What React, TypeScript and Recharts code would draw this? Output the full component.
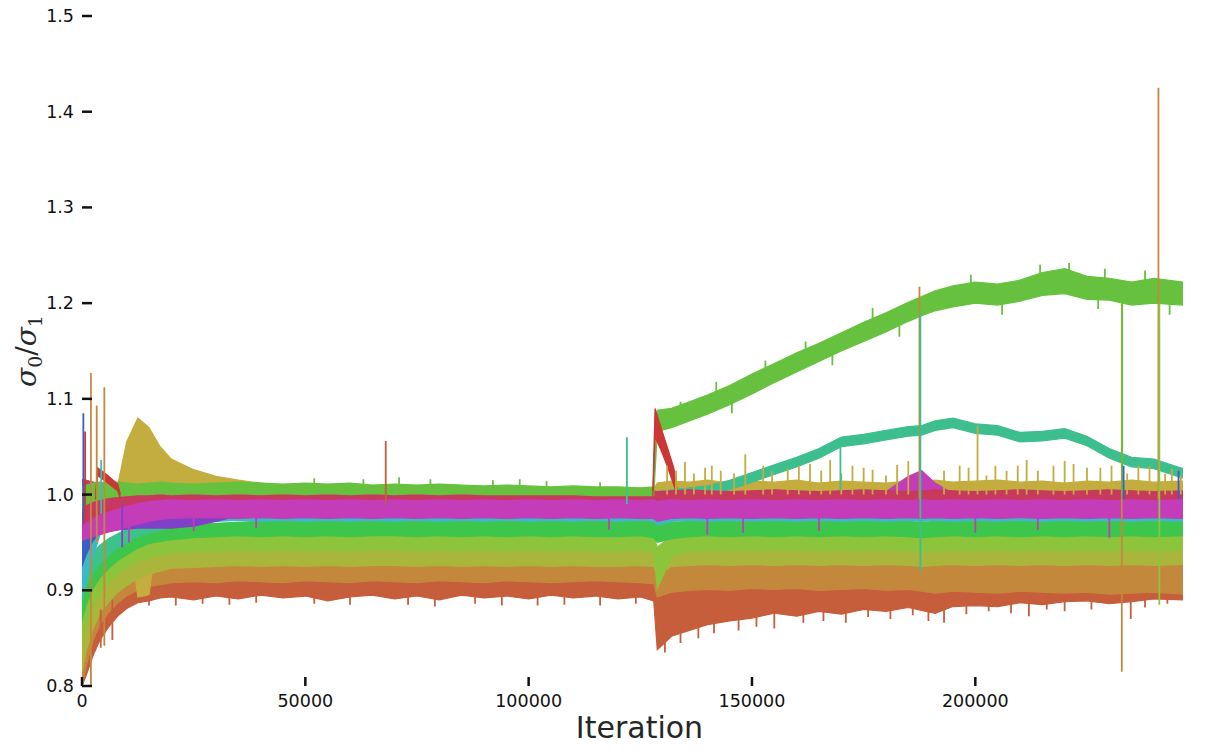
import React from 'react';
import { ComposedChart, Area, Line, XAxis, YAxis, Label } from 'recharts';

// sample iterations shared by every band
const ITER = [
  0, 1000, 2500, 4000, 6000, 8000, 10000, 12500, 15000, 17500,
  20000, 25000, 30000, 35000, 40000, 45000, 50000, 55000, 60000, 65000,
  70000, 75000, 80000, 85000, 90000, 95000, 100000, 105000, 110000, 115000,
  120000, 125000, 128000, 128800, 132000, 136000, 140000, 145000, 150000, 155000,
  160000, 165000, 170000, 175000, 180000, 185000, 188000, 191000, 195000, 200000,
  205000, 210000, 215000, 220000, 225000, 230000, 235000, 240000, 246500,
];

const X_TICKS = [0, 50000, 100000, 150000, 200000];
const Y_TICKS = [0.8, 0.9, 1.0, 1.1, 1.2, 1.3, 1.4, 1.5];

// envelope (low / high) of each run
const BROWN_LO = [
  0.800, 0.812, 0.832, 0.848, 0.862, 0.873, 0.881, 0.887, 0.889, 0.892,
  0.893, 0.890, 0.894, 0.891, 0.895, 0.892, 0.894, 0.889, 0.893, 0.895,
  0.891, 0.894, 0.890, 0.895, 0.892, 0.894, 0.891, 0.895, 0.892, 0.894,
  0.891, 0.893, 0.889, 0.838, 0.852, 0.858, 0.864, 0.868, 0.871, 0.876,
  0.873, 0.878, 0.875, 0.880, 0.878, 0.882, 0.879, 0.876, 0.883, 0.884,
  0.883, 0.887, 0.885, 0.888, 0.889, 0.886, 0.888, 0.891, 0.890,
];
const BROWN_HI = [
  0.830, 0.850, 0.870, 0.882, 0.892, 0.900, 0.905, 0.910, 0.914, 0.916,
  0.918, 0.917, 0.919, 0.918, 0.917, 0.919, 0.918, 0.917, 0.918, 0.919,
  0.918, 0.917, 0.919, 0.918, 0.917, 0.918, 0.919, 0.917, 0.918, 0.917,
  0.918, 0.917, 0.916, 0.912, 0.913, 0.915, 0.916, 0.917, 0.917, 0.918,
  0.918, 0.918, 0.919, 0.918, 0.919, 0.918, 0.917, 0.918, 0.919, 0.918,
  0.918, 0.919, 0.918, 0.919, 0.918, 0.919, 0.918, 0.919, 0.918,
];
const ORANGE_LO = [
  0.800, 0.822, 0.848, 0.864, 0.877, 0.887, 0.894, 0.900, 0.904, 0.906,
  0.908, 0.909, 0.908, 0.910, 0.909, 0.908, 0.910, 0.909, 0.908, 0.910,
  0.909, 0.908, 0.910, 0.909, 0.908, 0.910, 0.909, 0.908, 0.909, 0.910,
  0.909, 0.908, 0.907, 0.893, 0.898, 0.900, 0.901, 0.900, 0.902, 0.901,
  0.902, 0.900, 0.901, 0.902, 0.900, 0.901, 0.899, 0.897, 0.899, 0.898,
  0.897, 0.899, 0.898, 0.897, 0.898, 0.896, 0.897, 0.898, 0.896,
];
const ORANGE_HI = [
  0.835, 0.855, 0.877, 0.890, 0.900, 0.909, 0.915, 0.920, 0.922, 0.924,
  0.926, 0.927, 0.926, 0.928, 0.927, 0.926, 0.928, 0.927, 0.926, 0.927,
  0.928, 0.926, 0.927, 0.928, 0.926, 0.927, 0.928, 0.926, 0.927, 0.928,
  0.927, 0.926, 0.926, 0.922, 0.928, 0.930, 0.931, 0.930, 0.932, 0.931,
  0.932, 0.931, 0.932, 0.931, 0.932, 0.933, 0.931, 0.932, 0.931, 0.932,
  0.933, 0.932, 0.931, 0.932, 0.933, 0.932, 0.931, 0.932, 0.933,
];
const GOLD_LO = [
  0.985, 0.988, 0.990, 0.992, 0.993, 0.994, 0.985, 0.893, 0.895, 0.985,
  0.992, 0.994, 0.996, 0.996, 0.997, 0.996, 0.997, 0.996, 0.997, 0.996,
  0.997, 0.996, 0.997, 0.996, 0.997, 0.996, 0.997, 0.996, 0.997, 0.996,
  0.997, 0.996, 0.997, 0.996, 0.997, 0.996, 0.997, 0.996, 0.997, 0.996,
  0.997, 0.996, 0.997, 0.996, 0.997, 0.996, 0.997, 0.996, 0.997, 0.996,
  0.997, 0.996, 0.997, 0.996, 0.997, 0.996, 0.997, 0.996, 0.997,
];
const GOLD_HI = [
  1.000, 1.001, 1.003, 1.004, 1.006, 1.010, 1.055, 1.080, 1.070, 1.050,
  1.037, 1.026, 1.019, 1.015, 1.012, 1.010, 1.008, 1.007, 1.008, 1.007,
  1.007, 1.008, 1.007, 1.007, 1.006, 1.007, 1.006, 1.006, 1.006, 1.006,
  1.006, 1.006, 1.006, 1.012, 1.014, 1.013, 1.015, 1.012, 1.014, 1.013,
  1.015, 1.012, 1.014, 1.013, 1.012, 1.014, 1.013, 1.015, 1.013, 1.014,
  1.015, 1.013, 1.014, 1.012, 1.014, 1.013, 1.015, 1.013, 1.014,
];
const OLIVE_LO = [
  0.815, 0.838, 0.860, 0.876, 0.888, 0.898, 0.905, 0.912, 0.917, 0.920,
  0.923, 0.924, 0.925, 0.926, 0.925, 0.926, 0.925, 0.926, 0.925, 0.926,
  0.926, 0.925, 0.926, 0.925, 0.926, 0.925, 0.926, 0.925, 0.926, 0.925,
  0.925, 0.926, 0.925, 0.915, 0.925, 0.926, 0.927, 0.926, 0.927, 0.926,
  0.927, 0.926, 0.927, 0.926, 0.927, 0.926, 0.925, 0.926, 0.927, 0.926,
  0.927, 0.926, 0.927, 0.926, 0.927, 0.926, 0.927, 0.926, 0.927,
];
const OLIVE_HI = [
  0.850, 0.870, 0.888, 0.900, 0.910, 0.918, 0.924, 0.930, 0.934, 0.937,
  0.939, 0.941, 0.942, 0.943, 0.944, 0.943, 0.944, 0.943, 0.944, 0.943,
  0.944, 0.943, 0.944, 0.943, 0.944, 0.943, 0.944, 0.943, 0.944, 0.943,
  0.944, 0.943, 0.943, 0.935, 0.943, 0.944, 0.945, 0.944, 0.945, 0.944,
  0.945, 0.944, 0.945, 0.944, 0.945, 0.944, 0.944, 0.945, 0.944, 0.945,
  0.944, 0.945, 0.944, 0.945, 0.944, 0.945, 0.944, 0.945, 0.944,
];
const YGREEN_LO = [
  0.845, 0.865, 0.883, 0.897, 0.908, 0.917, 0.924, 0.930, 0.934, 0.937,
  0.939, 0.940, 0.941, 0.942, 0.941, 0.942, 0.941, 0.942, 0.941, 0.942,
  0.942, 0.941, 0.942, 0.941, 0.942, 0.941, 0.942, 0.941, 0.942, 0.941,
  0.941, 0.942, 0.940, 0.902, 0.935, 0.940, 0.941, 0.942, 0.941, 0.942,
  0.942, 0.941, 0.942, 0.941, 0.942, 0.941, 0.940, 0.941, 0.942, 0.941,
  0.942, 0.941, 0.942, 0.941, 0.942, 0.941, 0.942, 0.941, 0.942,
];
const YGREEN_HI = [
  0.870, 0.888, 0.903, 0.914, 0.924, 0.931, 0.937, 0.944, 0.949, 0.952,
  0.954, 0.956, 0.957, 0.958, 0.958, 0.959, 0.958, 0.959, 0.958, 0.959,
  0.959, 0.958, 0.959, 0.958, 0.959, 0.958, 0.959, 0.958, 0.959, 0.958,
  0.958, 0.959, 0.957, 0.945, 0.957, 0.958, 0.959, 0.960, 0.959, 0.960,
  0.960, 0.959, 0.960, 0.959, 0.960, 0.959, 0.958, 0.959, 0.960, 0.959,
  0.960, 0.959, 0.960, 0.959, 0.960, 0.959, 0.960, 0.959, 0.960,
];
const GREEN_LO = [
  0.868, 0.886, 0.902, 0.913, 0.923, 0.931, 0.937, 0.944, 0.949, 0.951,
  0.953, 0.955, 0.956, 0.957, 0.956, 0.957, 0.956, 0.957, 0.956, 0.957,
  0.957, 0.956, 0.957, 0.956, 0.957, 0.956, 0.957, 0.956, 0.957, 0.956,
  0.956, 0.957, 0.955, 0.950, 0.954, 0.956, 0.957, 0.956, 0.957, 0.956,
  0.957, 0.956, 0.957, 0.956, 0.957, 0.956, 0.955, 0.956, 0.957, 0.956,
  0.957, 0.956, 0.957, 0.956, 0.957, 0.956, 0.957, 0.956, 0.957,
];
const GREEN_HI = [
  0.900, 0.914, 0.926, 0.934, 0.941, 0.947, 0.954, 0.959, 0.962, 0.964,
  0.966, 0.968, 0.970, 0.971, 0.972, 0.973, 0.972, 0.973, 0.972, 0.973,
  0.973, 0.972, 0.973, 0.972, 0.973, 0.972, 0.973, 0.972, 0.973, 0.972,
  0.972, 0.973, 0.972, 0.968, 0.971, 0.972, 0.973, 0.972, 0.973, 0.972,
  0.973, 0.972, 0.973, 0.972, 0.973, 0.972, 0.971, 0.972, 0.973, 0.972,
  0.973, 0.972, 0.973, 0.972, 0.973, 0.972, 0.973, 0.972, 0.973,
];
const TEAL_LO = [
  0.890, 0.905, 0.918, 0.928, 0.937, 0.944, 0.950, 0.956, 0.960, 0.962,
  0.966, 0.972, 0.978, 0.978, 0.979, 0.978, 0.979, 0.978, 0.979, 0.978,
  0.979, 0.978, 0.979, 0.978, 0.979, 0.978, 0.979, 0.978, 0.979, 0.978,
  0.979, 0.978, 0.979, 0.978, 0.979, 0.978, 0.979, 0.978, 0.979, 0.978,
  0.979, 0.978, 0.979, 0.978, 0.979, 0.978, 0.979, 0.978, 0.979, 0.978,
  0.979, 0.978, 0.979, 0.978, 0.979, 0.978, 0.979, 0.978, 0.979,
];
const TEAL_HI = [
  0.918, 0.930, 0.940, 0.947, 0.954, 0.959, 0.964, 0.968, 0.971, 0.973,
  0.978, 0.984, 0.988, 0.988, 0.989, 0.988, 0.989, 0.988, 0.989, 0.988,
  0.989, 0.988, 0.989, 0.988, 0.989, 0.988, 0.989, 0.988, 0.989, 0.988,
  0.989, 0.988, 0.989, 0.988, 0.989, 0.988, 0.989, 0.988, 0.989, 0.988,
  0.989, 0.988, 0.989, 0.988, 0.989, 0.988, 0.989, 0.988, 0.989, 0.988,
  0.989, 0.988, 0.989, 0.988, 0.989, 0.988, 0.989, 0.988, 0.989,
];
const CYAN_LO = [
  0.897, 0.912, 0.935, 0.958, 0.962, 0.964, 0.966, 0.969, 0.970, 0.971,
  0.971, 0.972, 0.972, 0.973, 0.972, 0.973, 0.972, 0.973, 0.972, 0.973,
  0.972, 0.973, 0.972, 0.973, 0.972, 0.973, 0.972, 0.973, 0.972, 0.973,
  0.972, 0.973, 0.972, 0.968, 0.972, 0.973, 0.972, 0.973, 0.972, 0.973,
  0.972, 0.973, 0.972, 0.973, 0.972, 0.973, 0.972, 0.973, 0.972, 0.973,
  0.972, 0.973, 0.972, 0.973, 0.972, 0.973, 0.972, 0.973, 0.972,
];
const CYAN_HI = [
  0.925, 0.938, 0.955, 0.968, 0.972, 0.975, 0.977, 0.979, 0.980, 0.981,
  0.981, 0.983, 0.985, 0.985, 0.986, 0.985, 0.986, 0.985, 0.986, 0.985,
  0.986, 0.985, 0.986, 0.985, 0.986, 0.985, 0.986, 0.985, 0.986, 0.985,
  0.986, 0.985, 0.986, 0.985, 0.986, 0.985, 0.986, 0.985, 0.986, 0.985,
  0.986, 0.985, 0.986, 0.985, 0.986, 0.985, 0.986, 0.985, 0.986, 0.985,
  0.986, 0.985, 0.986, 0.985, 0.986, 0.985, 0.986, 0.985, 0.986,
];
const BLUE_LO = [
  0.925, 0.938, 0.952, 0.960, 0.963, 0.965, 0.967, 0.969, 0.970, 0.971,
  0.973, 0.976, 0.978, 0.979, 0.978, 0.979, 0.978, 0.979, 0.978, 0.979,
  0.978, 0.979, 0.978, 0.979, 0.978, 0.979, 0.978, 0.979, 0.978, 0.979,
  0.978, 0.979, 0.978, 0.979, 0.978, 0.979, 0.978, 0.979, 0.978, 0.979,
  0.978, 0.979, 0.978, 0.979, 0.978, 0.979, 0.978, 0.979, 0.978, 0.979,
  0.978, 0.979, 0.978, 0.979, 0.978, 0.979, 0.978, 0.979, 0.978,
];
const BLUE_HI = [
  0.953, 0.959, 0.964, 0.968, 0.972, 0.975, 0.977, 0.979, 0.980, 0.981,
  0.983, 0.986, 0.990, 0.989, 0.990, 0.989, 0.990, 0.989, 0.990, 0.989,
  0.990, 0.989, 0.990, 0.989, 0.990, 0.989, 0.990, 0.989, 0.990, 0.989,
  0.990, 0.989, 0.990, 0.989, 0.990, 0.989, 0.990, 0.989, 0.990, 0.989,
  0.990, 0.989, 0.990, 0.989, 0.990, 0.989, 0.990, 0.989, 0.990, 0.989,
  0.990, 0.989, 0.990, 0.989, 0.990, 0.989, 0.990, 0.989, 0.990,
];
const PURPLE_LO = [
  0.953, 0.956, 0.958, 0.960, 0.962, 0.963, 0.964, 0.965, 0.965, 0.965,
  0.965, 0.967, 0.972, 0.978, 0.979, 0.978, 0.979, 0.978, 0.979, 0.978,
  0.979, 0.978, 0.979, 0.978, 0.979, 0.978, 0.979, 0.978, 0.979, 0.978,
  0.979, 0.978, 0.979, 0.978, 0.979, 0.978, 0.979, 0.978, 0.979, 0.978,
  0.979, 0.978, 0.979, 0.978, 0.979, 0.978, 0.979, 0.978, 0.979, 0.978,
  0.979, 0.978, 0.979, 0.978, 0.979, 0.978, 0.979, 0.978, 0.979,
];
const PURPLE_HI = [
  0.975, 0.978, 0.980, 0.982, 0.984, 0.985, 0.986, 0.987, 0.987, 0.988,
  0.988, 0.989, 0.990, 0.990, 0.991, 0.990, 0.991, 0.990, 0.991, 0.990,
  0.991, 0.990, 0.991, 0.990, 0.991, 0.990, 0.991, 0.990, 0.991, 0.990,
  0.991, 0.990, 0.991, 0.990, 0.991, 0.990, 0.991, 0.990, 0.991, 0.990,
  0.991, 0.990, 0.991, 0.990, 0.991, 0.990, 0.991, 0.990, 0.991, 0.990,
  0.991, 0.990, 0.991, 0.990, 0.991, 0.990, 0.991, 0.990, 0.991,
];
const MAGENTA_LO = [
  0.952, 0.954, 0.956, 0.958, 0.961, 0.963, 0.966, 0.969, 0.972, 0.974,
  0.975, 0.976, 0.976, 0.975, 0.976, 0.975, 0.976, 0.975, 0.976, 0.975,
  0.976, 0.975, 0.976, 0.975, 0.976, 0.975, 0.976, 0.975, 0.976, 0.975,
  0.976, 0.975, 0.975, 0.972, 0.975, 0.976, 0.975, 0.976, 0.975, 0.976,
  0.975, 0.976, 0.975, 0.976, 0.975, 0.976, 0.975, 0.976, 0.975, 0.976,
  0.975, 0.976, 0.975, 0.976, 0.975, 0.976, 0.975, 0.976, 0.975,
];
const MAGENTA_HI = [
  0.975, 0.980, 0.985, 0.990, 0.993, 0.995, 0.997, 0.998, 0.998, 0.998,
  0.998, 0.998, 0.998, 0.998, 0.998, 0.998, 0.998, 0.998, 0.998, 0.998,
  0.998, 0.998, 0.998, 0.998, 0.998, 0.998, 0.998, 0.998, 0.998, 0.998,
  0.998, 0.998, 0.998, 0.998, 0.998, 0.998, 0.998, 0.998, 0.998, 0.998,
  0.998, 0.998, 0.998, 0.999, 1.003, 1.019, 1.025, 1.012, 1.001, 0.998,
  0.998, 0.998, 0.998, 0.998, 0.998, 0.998, 0.998, 0.998, 0.998,
];
const TEAL2_LO = [
  0.997, 0.997, 0.997, 0.997, 0.997, 0.997, 0.997, 0.997, 0.997, 0.997,
  0.997, 0.997, 0.997, 0.997, 0.997, 0.997, 0.997, 0.997, 0.997, 0.997,
  0.997, 0.997, 0.997, 0.997, 0.997, 0.997, 0.997, 0.997, 0.997, 0.997,
  0.997, 0.997, 0.997, 0.997, 0.998, 0.999, 1.000, 1.005, 1.013, 1.021,
  1.029, 1.038, 1.050, 1.053, 1.057, 1.061, 1.062, 1.067, 1.070, 1.064,
  1.062, 1.055, 1.056, 1.059, 1.051, 1.038, 1.029, 1.027, 1.017,
];
const TEAL2_HI = [
  1.003, 1.003, 1.003, 1.003, 1.003, 1.003, 1.003, 1.003, 1.003, 1.003,
  1.003, 1.003, 1.003, 1.003, 1.003, 1.003, 1.003, 1.003, 1.003, 1.003,
  1.003, 1.003, 1.003, 1.003, 1.003, 1.003, 1.003, 1.003, 1.003, 1.003,
  1.003, 1.003, 1.003, 1.003, 1.005, 1.007, 1.009, 1.015, 1.023, 1.031,
  1.039, 1.048, 1.060, 1.063, 1.067, 1.071, 1.072, 1.077, 1.080, 1.074,
  1.072, 1.065, 1.066, 1.069, 1.061, 1.048, 1.039, 1.037, 1.027,
];
const PINK_LO = [
  0.968, 0.972, 0.976, 0.980, 0.983, 0.986, 0.989, 0.992, 0.994, 0.995,
  0.996, 0.995, 0.996, 0.995, 0.996, 0.995, 0.996, 0.995, 0.996, 0.995,
  0.996, 0.995, 0.996, 0.995, 0.996, 0.995, 0.996, 0.995, 0.996, 0.995,
  0.996, 0.995, 0.996, 0.994, 0.996, 0.995, 0.996, 0.995, 0.996, 0.995,
  0.996, 0.995, 0.996, 0.995, 0.996, 0.995, 0.996, 0.995, 0.996, 0.995,
  0.996, 0.995, 0.996, 0.995, 0.996, 0.995, 0.996, 0.995, 0.996,
];
const PINK_HI = [
  1.016, 1.015, 1.013, 1.011, 1.010, 1.008, 1.007, 1.006, 1.005, 1.005,
  1.004, 1.005, 1.004, 1.003, 1.004, 1.005, 1.004, 1.003, 1.004, 1.005,
  1.004, 1.003, 1.004, 1.005, 1.004, 1.003, 1.004, 1.005, 1.004, 1.003,
  1.004, 1.005, 1.004, 1.003, 1.004, 1.005, 1.004, 1.003, 1.004, 1.005,
  1.004, 1.003, 1.004, 1.005, 1.004, 1.003, 1.004, 1.005, 1.004, 1.003,
  1.004, 1.005, 1.004, 1.003, 1.004, 1.005, 1.004, 1.003, 1.004,
];
const LIME_LO = [
  0.985, 0.990, 0.993, 0.995, 0.997, 0.998, 0.999, 1.000, 1.000, 1.001,
  1.000, 1.001, 1.000, 1.001, 1.000, 1.001, 1.000, 1.001, 1.000, 1.001,
  1.000, 1.001, 1.000, 1.001, 1.000, 1.000, 1.000, 1.000, 1.000, 0.999,
  0.999, 0.999, 0.999, 1.066, 1.070, 1.077, 1.084, 1.094, 1.105, 1.117,
  1.128, 1.139, 1.150, 1.160, 1.170, 1.181, 1.187, 1.192, 1.196, 1.200,
  1.198, 1.202, 1.208, 1.210, 1.204, 1.203, 1.198, 1.200, 1.198,
];
const LIME_HI = [
  1.008, 1.010, 1.012, 1.013, 1.012, 1.013, 1.012, 1.011, 1.012, 1.013,
  1.012, 1.011, 1.012, 1.013, 1.012, 1.011, 1.012, 1.011, 1.012, 1.010,
  1.011, 1.010, 1.011, 1.010, 1.009, 1.010, 1.009, 1.008, 1.009, 1.008,
  1.008, 1.007, 1.008, 1.088, 1.090, 1.097, 1.104, 1.114, 1.126, 1.137,
  1.148, 1.158, 1.169, 1.180, 1.190, 1.201, 1.207, 1.213, 1.218, 1.222,
  1.220, 1.224, 1.232, 1.236, 1.228, 1.226, 1.222, 1.226, 1.222,
];

// the short red run: a hump near the start and the decay after the jump at ~128k
const RED_A_X = [3000, 3500, 5500, 8000, 8600];
const RED_A_LO = [0.995, 1.020, 1.013, 1.004, 0.995];
const RED_A_HI = [1.000, 1.028, 1.021, 1.011, 1.000];
const RED_B_X = [127800, 128300, 129500, 131000, 132500, 133200];
const RED_B_LO = [0.998, 1.060, 1.048, 1.030, 1.010, 1.000];
const RED_B_HI = [1.004, 1.090, 1.072, 1.050, 1.028, 1.006];

// single-sample excursions, grouped by run
const BROWN_DIP_X = [
  15000, 21000, 27000, 33000, 39000, 52000, 60000, 73000, 79000, 88000,
  94000, 102000, 108000, 116000, 124000, 130500, 134000, 138000, 141500, 147000,
  151000, 155000, 161500, 166000, 171000, 176000, 181000, 186000, 189500, 193000,
  198000, 203000, 208000, 212000, 216000, 220000, 226000, 234800, 238000, 243000,
];
const BROWN_DIP_TO = [
  0.884, 0.884, 0.886, 0.885, 0.887, 0.886, 0.885, 0.885, 0.883, 0.886,
  0.884, 0.884, 0.885, 0.884, 0.886, 0.835, 0.845, 0.850, 0.855, 0.858,
  0.862, 0.860, 0.866, 0.868, 0.866, 0.872, 0.870, 0.874, 0.868, 0.866,
  0.875, 0.878, 0.876, 0.873, 0.880, 0.878, 0.880, 0.870, 0.882, 0.886,
];
const MAGENTA_DIP_X = [10500, 25000, 39000, 118000, 140000, 148000, 165000, 200000, 214000, 230000];
const MAGENTA_DIP_TO = [0.950, 0.962, 0.965, 0.963, 0.958, 0.960, 0.962, 0.960, 0.963, 0.955];
const GOLD_SPIKE_X = [
  131000, 133000, 135000, 137000, 139500, 141000, 143000, 146000, 148500, 152500,
  154500, 158000, 160500, 163000, 165500, 167500, 170000, 172500, 175000, 177000,
  180000, 182500, 185000, 193000, 196500, 198500, 200500, 202500, 204500, 207000,
  209500, 211500, 214000, 217500, 220000, 222000, 225000, 228000, 230500, 234000,
  236500, 239000, 242500, 244000, 246000,
];
const GOLD_SPIKE_TO = [
  1.030, 1.025, 1.034, 1.022, 1.028, 1.030, 1.025, 1.022, 1.042, 1.030,
  1.024, 1.027, 1.030, 1.032, 1.025, 1.036, 1.022, 1.030, 1.028, 1.026,
  1.020, 1.031, 1.035, 1.025, 1.030, 1.028, 1.072, 1.020, 1.030, 1.025,
  1.030, 1.036, 1.025, 1.030, 1.035, 1.032, 1.028, 1.028, 1.030, 1.022,
  1.030, 1.030, 1.022, 1.027, 1.020,
];
const LIME_NOISE_X = [
  52000, 63000, 71000, 78000, 92000, 98000, 104000, 116000, 134000, 142000,
  145500, 153000, 162000, 168000, 177000, 183000, 199000, 206000, 214500, 221000,
  227500, 229000, 238000, 243500,
];
const LIME_NOISE_FROM = [
  1.006, 1.006, 1.006, 1.006, 1.005, 1.005, 1.005, 1.004, 1.085, 1.100,
  1.105, 1.125, 1.140, 1.160, 1.175, 1.190, 1.210, 1.210, 1.220, 1.225,
  1.215, 1.215, 1.215, 1.210,
];
const LIME_NOISE_TO = [
  1.017, 1.016, 1.018, 1.016, 1.015, 1.016, 1.014, 1.013, 1.097, 1.118,
  1.085, 1.140, 1.160, 1.135, 1.195, 1.165, 1.230, 1.188, 1.240, 1.242,
  1.194, 1.236, 1.234, 1.188,
];
const OUT_SERIES = [
  'blue', 'red', 'orange', 'orange', 'orange', 'cyan', 'brown', 'brown', 'purple', 'brown',
  'teal', 'teal2', 'orange', 'teal2', 'orange', 'lime', 'orange', 'ygreen', 'blue', 'blue',
];
const OUT_X = [
  300, 700, 2000, 3300, 5000, 4300, 4200, 6800, 9000, 68000,
  122000, 169800, 187500, 187700, 232800, 232900, 241000, 241200, 233200, 245500,
];
const OUT_FROM = [
  0.970, 0.970, 0.800, 0.950, 0.842, 0.980, 0.840, 0.848, 0.990, 0.990,
  0.990, 1.055, 0.995, 1.190, 1.200, 1.200, 0.995, 1.200, 0.995, 0.995,
];
const OUT_TO = [
  1.085, 1.066, 1.127, 1.093, 1.112, 1.036, 0.880, 0.890, 0.945, 1.056,
  1.060, 1.005, 1.217, 0.920, 0.815, 1.000, 1.425, 0.885, 1.030, 1.025,
];

const COLORS: Record<string, string> = {
  brown: '#c65d3b',
  orange: '#c4883d',
  gold: '#c2ad3e',
  olive: '#aab63b',
  ygreen: '#8cc43c',
  green: '#3dc64c',
  teal: '#3cc38b',
  cyan: '#3bb9c5',
  blue: '#3d5ec8',
  purple: '#8040c8',
  magenta: '#c43cb8',
  teal2: '#3dbe8e',
  pink: '#c8395e',
  lime: '#66c23e',
  red: '#cc3636',
};

// bottom-most drawn first, as in the original figure
const BAND_ORDER = [
  'brown', 'orange', 'gold', 'olive', 'ygreen', 'green', 'teal', 'cyan',
  'blue', 'purple', 'magenta', 'teal2', 'pink', 'lime',
];
const BAND_LO: Record<string, number[]> = {
  brown: BROWN_LO, orange: ORANGE_LO, gold: GOLD_LO, olive: OLIVE_LO, ygreen: YGREEN_LO,
  green: GREEN_LO, teal: TEAL_LO, cyan: CYAN_LO, blue: BLUE_LO, purple: PURPLE_LO,
  magenta: MAGENTA_LO, teal2: TEAL2_LO, pink: PINK_LO, lime: LIME_LO,
};
const BAND_HI: Record<string, number[]> = {
  brown: BROWN_HI, orange: ORANGE_HI, gold: GOLD_HI, olive: OLIVE_HI, ygreen: YGREEN_HI,
  green: GREEN_HI, teal: TEAL_HI, cyan: CYAN_HI, blue: BLUE_HI, purple: PURPLE_HI,
  magenta: MAGENTA_HI, teal2: TEAL2_HI, pink: PINK_HI, lime: LIME_HI,
};

const rows = ITER.map((x, i) => {
  const row: Record<string, any> = { x };
  BAND_ORDER.forEach((k) => {
    row[k] = [BAND_LO[k][i], BAND_HI[k][i]];
  });
  return row;
});

const redA = RED_A_X.map((x, i) => ({ x, red: [RED_A_LO[i], RED_A_HI[i]] }));
const redB = RED_B_X.map((x, i) => ({ x, red: [RED_B_LO[i], RED_B_HI[i]] }));

type Spike = { series: string; points: { x: number; v: number }[] };

function makeSpikes(series: string[], xs: number[], from: number[], to: number[]): Spike[] {
  return xs.map((x, i) => ({
    series: series[i],
    points: [
      { x, v: from[i] },
      { x: x + 1, v: to[i] },
    ],
  }));
}

const spikes: Spike[] = [
  ...makeSpikes(BROWN_DIP_X.map(() => 'brown'), BROWN_DIP_X, BROWN_DIP_X.map(() => 0.895), BROWN_DIP_TO),
  ...makeSpikes(MAGENTA_DIP_X.map(() => 'magenta'), MAGENTA_DIP_X, MAGENTA_DIP_X.map(() => 0.98), MAGENTA_DIP_TO),
  ...makeSpikes(GOLD_SPIKE_X.map(() => 'gold'), GOLD_SPIKE_X, GOLD_SPIKE_X.map(() => 1.0), GOLD_SPIKE_TO),
  ...makeSpikes(LIME_NOISE_X.map(() => 'lime'), LIME_NOISE_X, LIME_NOISE_FROM, LIME_NOISE_TO),
  ...makeSpikes(OUT_SERIES, OUT_X, OUT_FROM, OUT_TO),
];

const FONT = '"DejaVu Sans", sans-serif';

function YTick({ x, y, payload }: any) {
  return (
    <g>
      <line x1={x} x2={x + 10} y1={y} y2={y} stroke="#111" strokeWidth={2.5} />
      <text x={x - 8} y={y + 6} textAnchor="end" fontSize={17.5} fontFamily={FONT} fill="#111">
        {Number(payload.value).toFixed(1)}
      </text>
    </g>
  );
}

function XTick({ x, y, payload }: any) {
  return (
    <g>
      <line x1={x} x2={x} y1={y - 9} y2={y} stroke="#111" strokeWidth={2.5} />
      <text x={x} y={y + 21} textAnchor="middle" fontSize={17.5} fontFamily={FONT} fill="#111">
        {payload.value}
      </text>
    </g>
  );
}

function XLabel({ viewBox }: any) {
  return (
    <text
      x={viewBox.x + viewBox.width / 2 + 7}
      y={viewBox.y + 52}
      textAnchor="middle"
      fontSize={30}
      fontFamily={FONT}
      fill="#262626"
    >
      Iteration
    </text>
  );
}

function YLabel() {
  const cx = 36;
  const cy = 351;
  return (
    <text
      x={cx}
      y={cy}
      transform={`rotate(-90, ${cx}, ${cy})`}
      textAnchor="middle"
      fontSize={28}
      fontFamily='"DejaVu Serif", serif'
      fill="#262626"
    >
      <tspan fontStyle="italic">σ</tspan>
      <tspan fontSize={19} dy={6}>0</tspan>
      <tspan dy={-6}>/</tspan>
      <tspan fontStyle="italic">σ</tspan>
      <tspan fontSize={19} dy={6}>1</tspan>
    </text>
  );
}

export default function App() {
  return (
    <div style={{ position: 'absolute', left: 0, top: 0, width: 1205, height: 752, background: '#fff' }}>
      <ComposedChart width={1205} height={752} data={rows} margin={{ top: 16, right: 22, bottom: 0, left: 0 }}>
        <XAxis
          type="number"
          dataKey="x"
          domain={[0, 246500]}
          ticks={X_TICKS}
          interval={0}
          height={66}
          axisLine={false}
          tickLine={false}
          tickSize={0}
          tickMargin={0}
          tick={<XTick />}
          allowDataOverflow
        >
          <Label content={<XLabel />} />
        </XAxis>
        <YAxis
          type="number"
          domain={[0.8, 1.5]}
          ticks={Y_TICKS}
          interval={0}
          width={82}
          axisLine={false}
          tickLine={false}
          tickSize={0}
          tickMargin={0}
          tick={<YTick />}
          allowDataOverflow
        >
          <Label content={<YLabel />} />
        </YAxis>
        {BAND_ORDER.map((k) => (
          <Area
            key={k}
            type="linear"
            dataKey={k}
            stroke={COLORS[k]}
            strokeWidth={1.2}
            fill={COLORS[k]}
            fillOpacity={1}
            dot={false}
            activeDot={false}
            isAnimationActive={false}
          />
        ))}
        <Area data={redA} type="linear" dataKey="red" stroke={COLORS.red} strokeWidth={1.2} fill={COLORS.red} fillOpacity={1} dot={false} activeDot={false} isAnimationActive={false} />
        <Area data={redB} type="linear" dataKey="red" stroke={COLORS.red} strokeWidth={1.2} fill={COLORS.red} fillOpacity={1} dot={false} activeDot={false} isAnimationActive={false} />
        {spikes.map((s, i) => (
          <Line
            key={`spike-${i}`}
            data={s.points}
            type="linear"
            dataKey="v"
            stroke={COLORS[s.series]}
            strokeWidth={1.8}
            dot={false}
            activeDot={false}
            isAnimationActive={false}
          />
        ))}
      </ComposedChart>
    </div>
  );
}
